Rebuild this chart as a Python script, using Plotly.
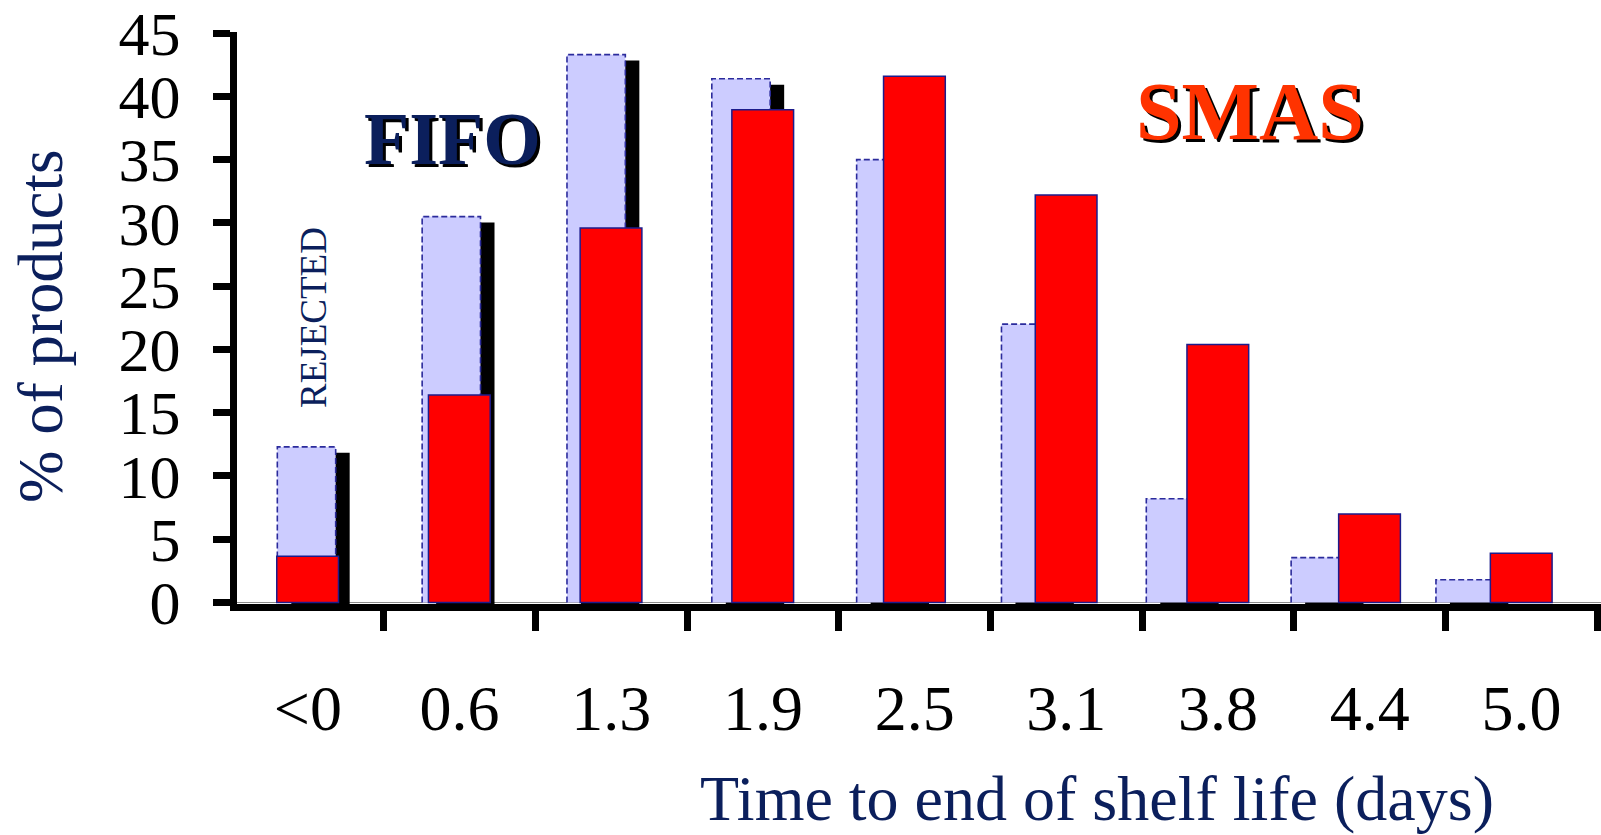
import plotly.graph_objects as go

# ---------------- data ----------------
categories = ["<0", "0.6", "1.3", "1.9", "2.5", "3.1", "3.8", "4.4", "5.0"]
fifo = [12.3, 30.5, 43.3, 41.4, 35.0, 22.0, 8.2, 3.55, 1.8]
smas = [3.65, 16.4, 29.6, 38.95, 41.6, 32.2, 20.4, 7.0, 3.9]
y_tick_step = 5

# ---------------- layout geometry ----------------
W, H = 1601, 835
L, R, T, B = 237, 0, 28, 231
plot_w = W - L - R
plot_h = H - T - B
bottom_px = H - B

cat_px = 151.7          # pixel width of one category on the visible axis
fifo_px = 144.83        # spacing of the pasted FIFO chart
y_px = 12.741           # pixels per % unit
zero_px = 602.5         # pixel row of the bars' baseline

x_r0 = -0.5 + 5 / cat_px
x_r1 = x_r0 + plot_w / cat_px

f_r0 = -(306.5 - L) / fifo_px
f_r1 = f_r0 + plot_w / fifo_px
s_r0 = f_r0 - 14 / fifo_px
s_r1 = s_r0 + plot_w / fifo_px

y_r0 = -(bottom_px - zero_px) / y_px
y_r1 = y_r0 + plot_h / y_px
ys_r0 = -(bottom_px - (zero_px + 6)) / y_px
ys_r1 = ys_r0 + plot_h / y_px

NAVY = "#0b1f5c"
FONT = "Liberation Serif"

idx = list(range(len(categories)))
hw = 0.2015
ox, oy = [], []
for i, v in zip(idx, fifo):
    ox += [i - hw, i - hw, i + hw, i + hw, None]
    oy += [0, v, v, 0, None]

fig = go.Figure()

# shadow of FIFO bars (bottom layer)
fig.add_trace(go.Bar(x=idx, y=fifo, xaxis="x", yaxis="y", width=2 * hw,
                     marker=dict(color="black", line=dict(width=0)),
                     showlegend=False, hoverinfo="skip"))
# FIFO bars
fig.add_trace(go.Bar(x=idx, y=fifo, xaxis="x2", yaxis="y2", width=2 * hw,
                     marker=dict(color="#ccccff", line=dict(width=0)),
                     name="FIFO", showlegend=False))
fig.add_trace(go.Scatter(x=ox, y=oy, xaxis="x2", yaxis="y2", mode="lines",
                         line=dict(color="#2b2b9c", width=1.6, dash="6px,3px"),
                         showlegend=False, hoverinfo="skip"))
# SMAS bars
fig.add_trace(go.Bar(x=categories, y=smas, xaxis="x3", yaxis="y2",
                     offset=-0.205, width=0.407,
                     marker=dict(color="#ff0000", line=dict(color="#1c1c8c", width=1.5)),
                     name="SMAS", showlegend=False))

fig.update_layout(
    width=W, height=H,
    margin=dict(l=L, r=R, t=T, b=B, pad=0),
    paper_bgcolor="white", plot_bgcolor="white",
    barmode="overlay",
    showlegend=False,
    font=dict(family=FONT, color="black"),
    xaxis=dict(type="linear", range=[s_r0, s_r1], visible=False, fixedrange=True),
    yaxis=dict(range=[ys_r0, ys_r1], visible=False, fixedrange=True),
    xaxis2=dict(type="linear", range=[f_r0, f_r1], overlaying="x", visible=False),
    xaxis3=dict(type="category", range=[x_r0, x_r1], overlaying="x", anchor="y2",
                side="bottom", tickson="boundaries", ticks="outside", ticklen=20,
                tickwidth=7, tickcolor="black", showline=True, linecolor="black",
                linewidth=7, showgrid=False, zeroline=False,
                tickfont=dict(family=FONT, size=64, color="black"),
                ticklabelstandoff=42, ticklabeloverflow="allow"),
    yaxis2=dict(range=[y_r0, y_r1], overlaying="y", anchor="x", side="left",
                tick0=0, dtick=y_tick_step, ticks="outside", ticklen=17, tickwidth=7,
                tickcolor="black", showline=True, linecolor="black", linewidth=7,
                showgrid=False, zeroline=True, zerolinecolor="#8c8c8c", zerolinewidth=1,
                tickfont=dict(family=FONT, size=62, color="black"),
                ticklabelstandoff=20, ticklabeloverflow="allow"),
)

def px_x(p):
    return (p - L) / plot_w

def px_y(p):
    return (bottom_px - p) / plot_h

ann = []
ann.append(dict(text="Time to end of shelf life (days)", x=px_x(1097), y=px_y(800),
                font=dict(family=FONT, size=64, color=NAVY)))
ann.append(dict(text="% of products", x=px_x(41), y=px_y(324), textangle=-90,
                font=dict(family=FONT, size=63, color=NAVY)))
ann.append(dict(text="REJECTED", x=px_x(313), y=px_y(316), textangle=-90,
                font=dict(family=FONT, size=37, color=NAVY)))
for txt, cx, cy, col, sz in [("FIFO", 452, 136, NAVY, 74), ("SMAS", 1250, 108, "#ff3300", 82)]:
    ann.append(dict(text="<b>%s</b>" % txt, x=px_x(cx), y=px_y(cy), xshift=3, yshift=-3,
                    font=dict(family=FONT, size=sz, color="black")))
    ann.append(dict(text="<b>%s</b>" % txt, x=px_x(cx), y=px_y(cy),
                    font=dict(family=FONT, size=sz, color=col)))
for a in ann:
    a.update(xref="paper", yref="paper", showarrow=False, xanchor="center", yanchor="middle")
fig.update_layout(annotations=ann)

fig.write_html("out.html", config={"displayModeBar": False})
